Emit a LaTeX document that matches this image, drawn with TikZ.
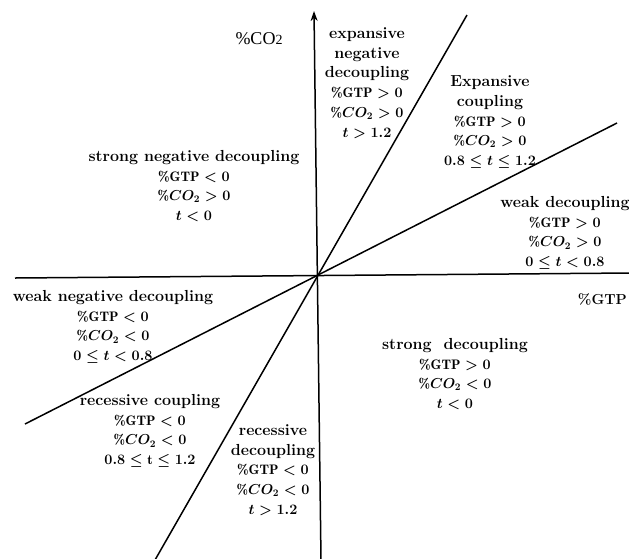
\documentclass[tikz,border=0pt]{standalone}
\usepackage{amsmath,amssymb}
\usepackage{fontspec}
\newfontfamily\timesfont{Liberation Serif}
\usetikzlibrary{arrows.meta}
\newcommand{\mline}[1]{{\fontsize{13.8}{19.7}\selectfont$#1$}}
\tikzset{
  axisline/.style={line width=1.5pt, draw=black},
  sepline/.style={line width=1.5pt, draw=black},
  region/.style={align=center, inner sep=0pt, font=\fontsize{16}{19.7}\selectfont\bfseries\boldmath},
  axislabel/.style={inner sep=0pt, font=\timesfont\fontsize{18}{20}\selectfont},
}
\begin{document}
\begin{tikzpicture}[x=1pt,y=-1pt]
\useasboundingbox (0,0) rectangle (629,558);
% axes endpoints
\coordinate (ytop) at (314,11);
\coordinate (ybot) at (321,560);
\coordinate (xl) at (15,278);
\coordinate (xr) at (631,273);
% separating lines
\coordinate (s1) at (155,560);
\coordinate (s2) at (467,15);
\coordinate (h1) at (25,424);
\coordinate (h2) at (617,123);
\draw[axisline, -{Stealth[length=10pt,width=7pt]}] (ybot) -- (ytop);
\draw[axisline] (xl) -- (xr);
\draw[sepline] (s1) -- (s2);
\draw[sepline] (h1) -- (h2);
% labels
\node[axislabel] (co2) at (259,39) {\%CO{\fontsize{14}{16}\selectfont 2}};
\node[region, anchor=east, font=\fontsize{14.5}{18}\selectfont\bfseries] (gtp) at (627,299) {\%GTP};
\node[region] (expneg) at (367,83) {expansive\\negative\\decoupling\\\mline{\%\mathrm{GTP}>0}\\\mline{\%CO_2>0}\\\mline{t>1.2}};
\node[region] (expc) at (490,122) {Expansive\\coupling\\\mline{\%\mathrm{GTP}>0}\\\mline{\%CO_2>0}\\\mline{0.8\le t\le 1.2}};
\node[region] (strneg) at (194,186) {strong\ negative\ decoupling\\\mline{\%\mathrm{GTP}<0}\\\mline{\%CO_2>0}\\\mline{t<0}};
\node[region] (weak) at (565,233) {weak\ decoupling\\\mline{\%\mathrm{GTP}>0}\\\mline{\%CO_2>0}\\\mline{0\le t<0.8}};
\node[region] (strong) at (455,374) {strong\ \ decoupling\\\mline{\%\mathrm{GTP}>0}\\\mline{\%CO_2<0}\\\mline{t<0}};
\node[region] (weakneg) at (113,327) {weak\ negative\ decoupling\\\mline{\%\mathrm{GTP}<0}\\\mline{\%CO_2<0}\\\mline{0\le t<0.8}};
\node[region] (recc) at (150,431) {recessive\ coupling\\\mline{\%\mathrm{GTP}<0}\\\mline{\%CO_2<0}\\\mline{0.8\le \mathrm{t}\le 1.2}};
\node[region] (recd) at (273,470) {recessive\\decoupling\\\mline{\%\mathrm{GTP}<0}\\\mline{\%CO_2<0}\\\mline{t>1.2}};
\end{tikzpicture}
\end{document}
